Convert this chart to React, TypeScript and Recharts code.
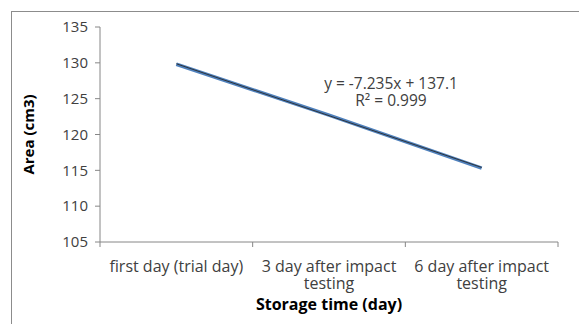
import React from 'react';
import { LineChart, Line, XAxis, YAxis, Label } from 'recharts';

const categories = ['first day (trial day)', '3 day after impact testing', '6 day after impact testing'];
const areaValues = [129.8, 122.7, 115.3];
const trendValues = [129.87, 122.63, 115.4];
const yTicks = [105, 110, 115, 120, 125, 130, 135];
const xTicks = [0.5, 1, 1.5, 2, 2.5, 3, 3.5];

const tickLines: Record<number, string[]> = {
    1: ['first day (trial day)'],
    2: ['3 day after impact', 'testing'],
    3: ['6 day after impact', 'testing'],
};

const data = categories.map((name, i) => ({
    x: i + 1,
    name,
    area: areaValues[i],
    trend: trendValues[i],
}));

const FONT = '"Open Sans", Lato, sans-serif';
const FS = 16;

function XTick(props: any) {
    const { x, y, payload } = props;
    const v = payload.value;
    if (v % 1 !== 0) {
        return <line x1={x} x2={x} y1={y - 8} y2={y - 3} stroke="#868686" />;
    }
    const lines = tickLines[v] || [];
    return (
        <text x={x} y={y + 12} textAnchor="middle" fill="#404040" fontSize={FS} fontFamily={FONT}>
            {lines.map((l, i) => (
                <tspan key={i} x={x} dy={i === 0 ? 10 : 17}>{l}</tspan>
            ))}
        </text>
    );
}

export default function App() {
    return (
        <div style={{ position: 'fixed', left: 0, top: 0, width: 579, height: 324, background: '#fff', overflow: 'hidden' }}>
            <div style={{ position: 'absolute', left: 11, top: 11, width: 620, height: 360, border: '1.5px solid #8c8c8c' }} />
            <div style={{ position: 'absolute', left: 0, top: 0 }}>
                <LineChart width={579} height={324} data={data} margin={{ top: 27, right: 21, left: 0, bottom: 0 }}>
                    <XAxis
                        type="number"
                        dataKey="x"
                        domain={[0.5, 3.5]}
                        ticks={xTicks}
                        interval={0}
                        tickLine={false}
                        axisLine={{ stroke: '#868686' }}
                        tick={<XTick />}
                        height={82}
                    >
                        <Label
                            value="Storage time (day)"
                            position="insideBottom"
                            offset={14}
                            fill="#000"
                            fontSize={FS}
                            fontWeight="bold"
                            fontFamily={FONT}
                        />
                    </XAxis>
                    <YAxis
                        domain={[105, 135]}
                        ticks={yTicks}
                        interval={0}
                        width={100}
                        tickSize={5}
                        tickMargin={7}
                        axisLine={{ stroke: '#868686' }}
                        tickLine={{ stroke: '#868686' }}
                        tick={{ fill: '#404040', fontSize: 15, fontFamily: FONT }}
                    >
                        <Label
                            value="Area (cm3)"
                            angle={-90}
                            position="insideLeft"
                            offset={29}
                            fill="#000"
                            fontSize={15}
                            fontWeight="bold"
                            fontFamily={FONT}
                            style={{ textAnchor: 'middle' }}
                        />
                    </YAxis>
                    <Line
                        type="linear"
                        dataKey="area"
                        stroke="#4F81BD"
                        strokeWidth={3.5}
                        dot={false}
                        isAnimationActive={false}
                    />
                    <Line
                        type="linear"
                        dataKey="trend"
                        stroke="#2a2a2a"
                        strokeWidth={0.9}
                        dot={false}
                        isAnimationActive={false}
                    />
                    <text x={391} y={89} textAnchor="middle" fill="#404040" fontSize={15.5} fontFamily={FONT}>
                        y = -7.235x + 137.1
                    </text>
                    <text x={391} y={106} textAnchor="middle" fill="#404040" fontSize={15.5} fontFamily={FONT}>
                        R² = 0.999
                    </text>
                </LineChart>
            </div>
        </div>
    );
}
